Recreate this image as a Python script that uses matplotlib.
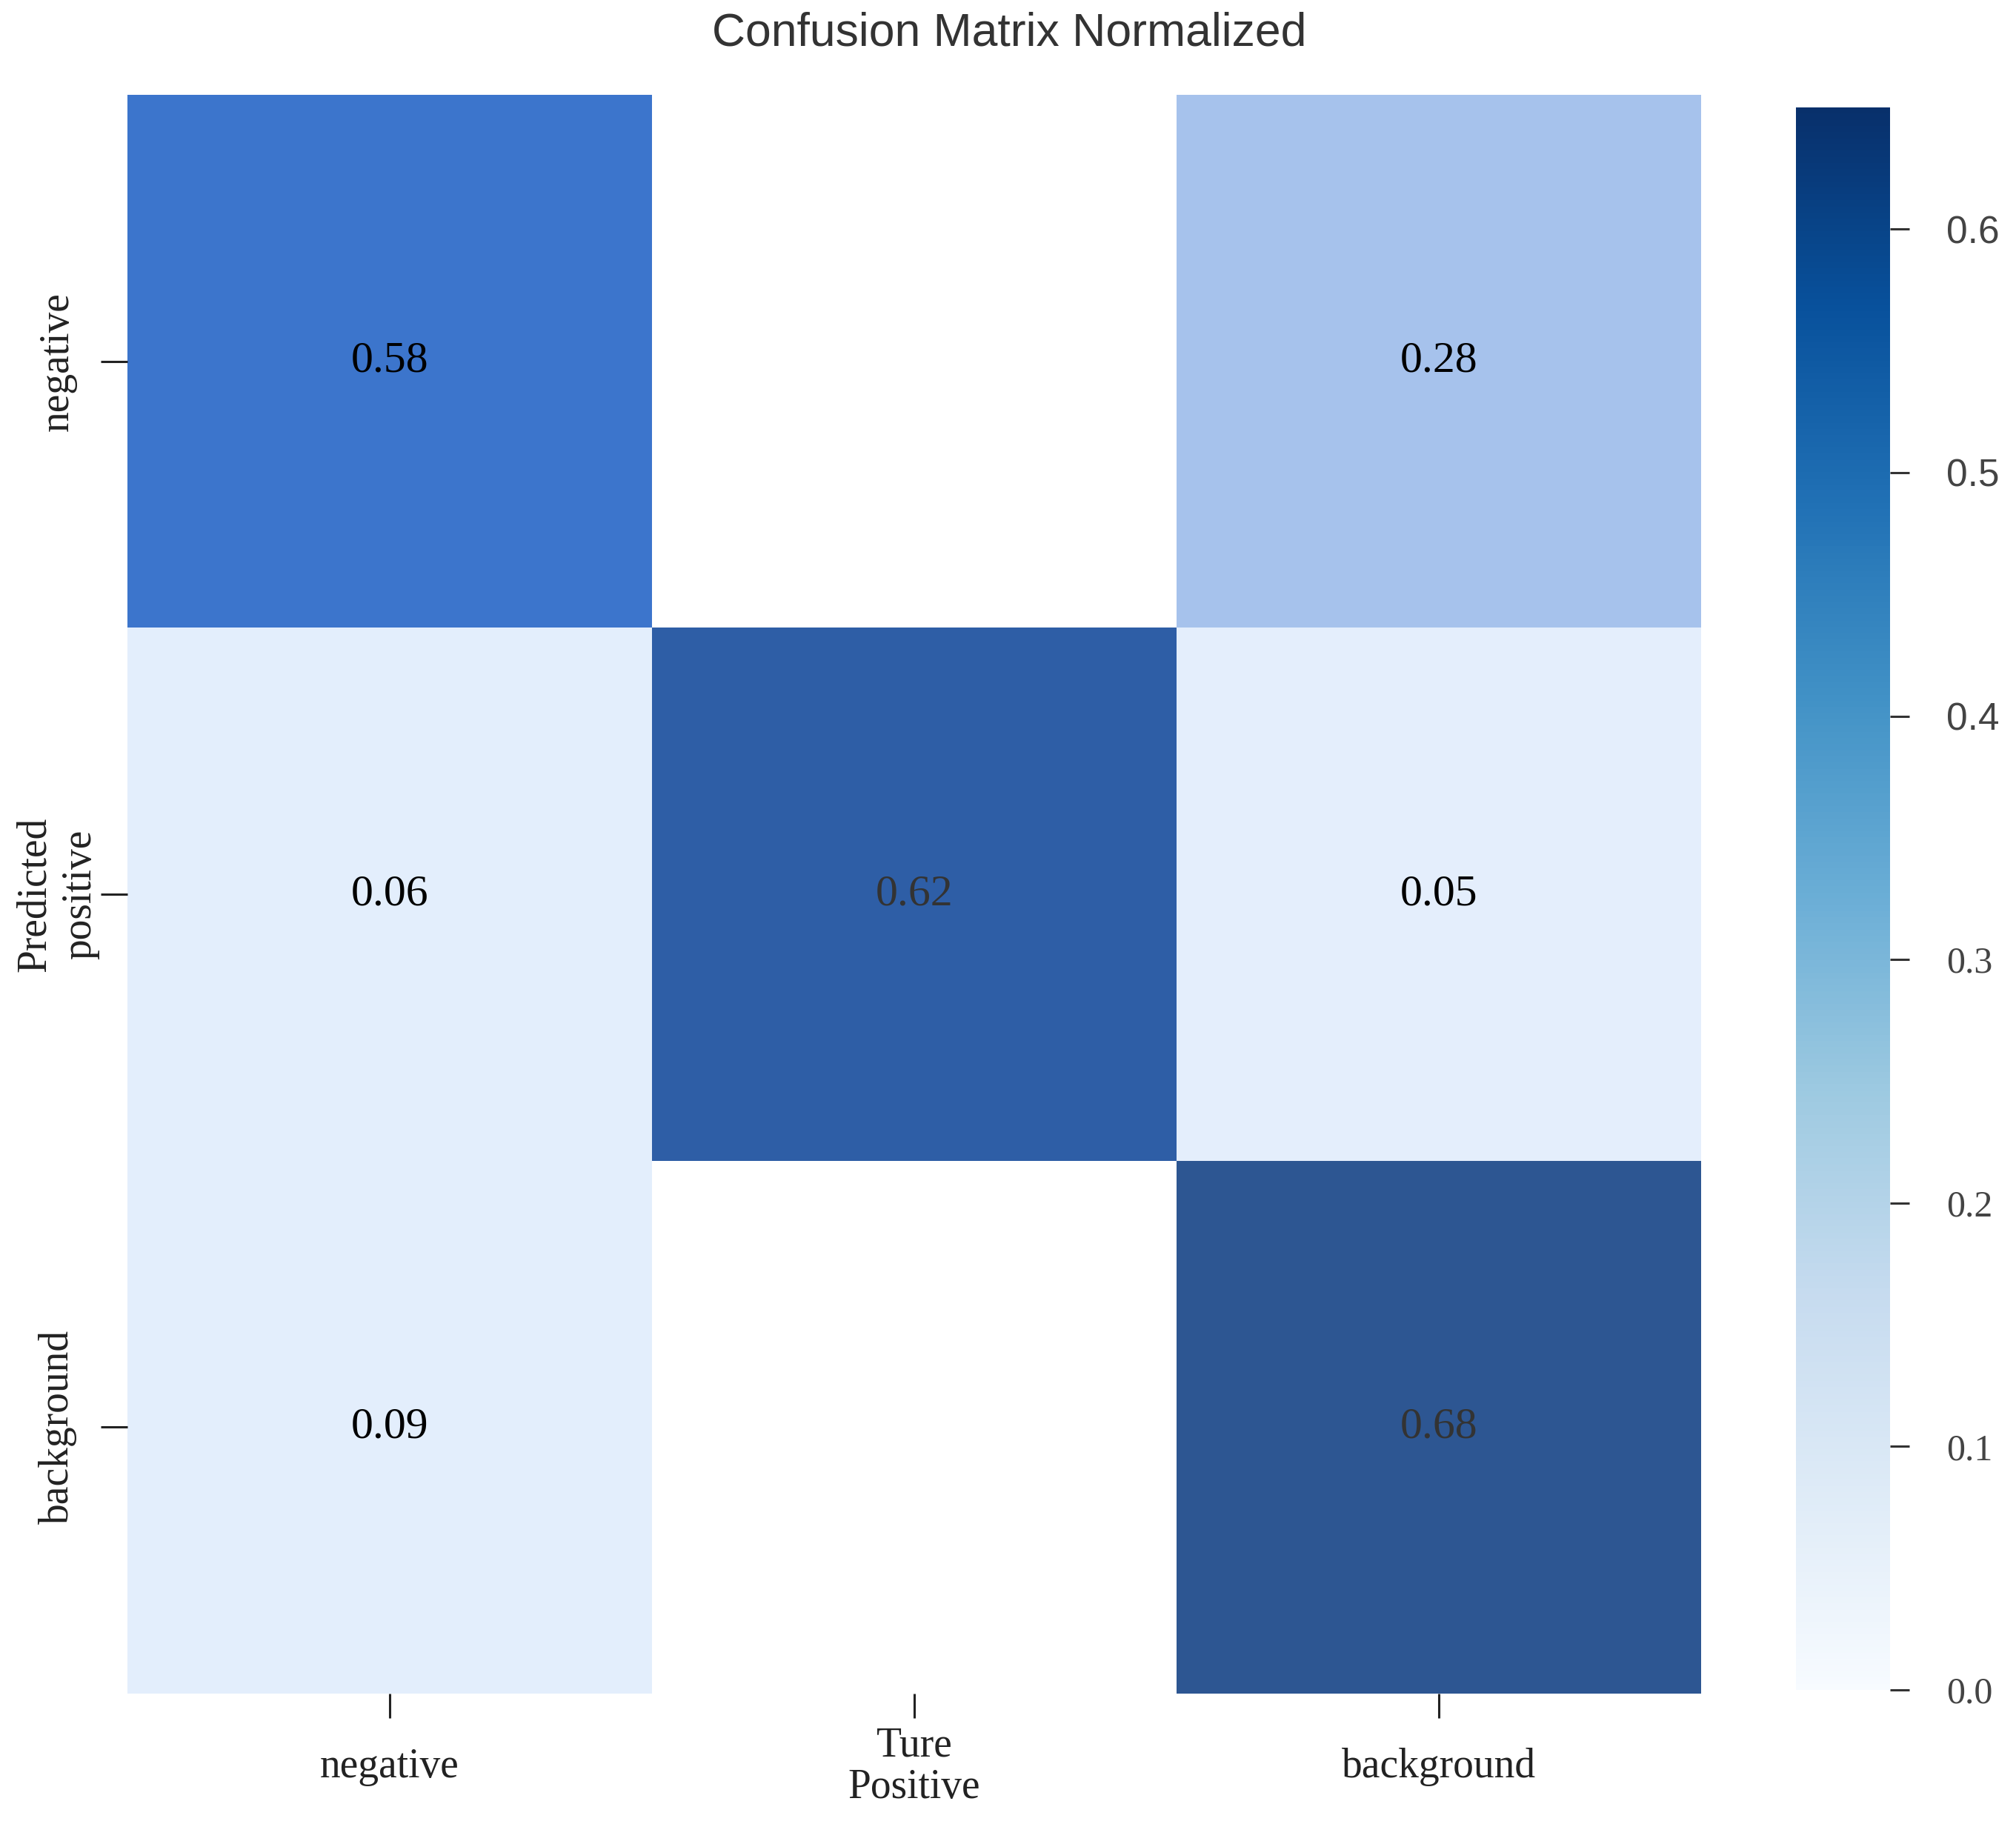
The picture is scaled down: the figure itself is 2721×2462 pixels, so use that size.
import numpy as np
import matplotlib
matplotlib.use("Agg")
import matplotlib.pyplot as plt
from matplotlib.colors import LinearSegmentedColormap, Normalize
from matplotlib.cm import ScalarMappable

# ---- data ----
x_labels = ["negative", "Ture\nPositive", "background"]
y_labels = ["negative", "Predicted\npositive", "background"]
row_negative = [0.58, np.nan, 0.28]
row_positive = [0.06, 0.62, 0.05]
row_background = [0.09, np.nan, 0.68]
cbar_ticks = [0.0, 0.1, 0.2, 0.3, 0.4, 0.5, 0.6]
cbar_max = 0.65
title = "Confusion Matrix Normalized"

matrix = np.array([row_negative, row_positive, row_background])

# cell palette (as seen in the picture) and colorbar palette
cell_cmap = LinearSegmentedColormap.from_list(
    "cells",
    [(0.0, "#F2F7FE"), (0.05 / 0.68, "#E3EEFC"), (0.09 / 0.68, "#E3EEFC"),
     (0.28 / 0.68, "#A6C2EC"), (0.58 / 0.68, "#3D76CD"),
     (0.62 / 0.68, "#2E5EA6"), (1.0, "#2D5692")])

W, H = 2721, 2462
fig = plt.figure(figsize=(W / 100, H / 100), dpi=100)

serif = ["Liberation Serif", "DejaVu Serif"]
sans = ["Liberation Sans", "DejaVu Sans"]

ax = fig.add_axes([172 / W, 1 - 2286 / H, 2124 / W, (2286 - 128) / H])
masked = np.ma.masked_invalid(matrix)
ax.pcolormesh(np.arange(4), np.arange(4), masked, cmap=cell_cmap,
              vmin=0, vmax=0.68, shading="flat")
ax.set_xlim(0, 3)
ax.set_ylim(3, 0)
ax.set_facecolor("white")
for s in ax.spines.values():
    s.set_visible(False)

ax.set_xticks(np.arange(3) + 0.5)
ax.set_yticks(np.arange(3) + 0.5)
ax.set_xticklabels(x_labels, fontsize=40, family=serif, color="#222222",
                   va="center", linespacing=1.1)
ax.set_yticklabels(y_labels, fontsize=40, family=serif, color="#222222",
                   rotation=90, ha="center", va="center", linespacing=1.25)
ax.tick_params(axis="x", length=24, width=2.2, color="#222222", pad=47)
ax.tick_params(axis="y", length=26, width=2.2, color="#222222", pad=42)

for i in range(3):
    for j in range(3):
        v = matrix[i, j]
        if np.isnan(v):
            continue
        col = "#333333" if v >= 0.6 else "black"
        ax.text(j + 0.5, i + 0.5, f"{v:.2f}", ha="center", va="center",
                fontsize=43, family=serif, color=col)

# colorbar
cax = fig.add_axes([2424 / W, 1 - 2281 / H, 127 / W, (2281 - 145) / H])
sm = ScalarMappable(norm=Normalize(vmin=0, vmax=cbar_max), cmap="Blues")
cb = fig.colorbar(sm, cax=cax, ticks=cbar_ticks)
cb.outline.set_visible(False)
cax.tick_params(length=19, width=2.2, color="#333333", pad=36)
cax.set_yticklabels([f"{t:.1f}" for t in cbar_ticks])
for lab, t in zip(cax.get_yticklabels(), cbar_ticks):
    lab.set_color("#444444")
    if t >= 0.35:
        lab.set_family(sans)
        lab.set_fontsize(37)
    else:
        lab.set_family(serif)
        lab.set_fontsize(36)

fig.text(1362 / W, 1 - 45 / H, title, ha="center", va="center",
         fontsize=45, family=sans, color="#333333")

fig.savefig("out.png", dpi=100, facecolor="white")
